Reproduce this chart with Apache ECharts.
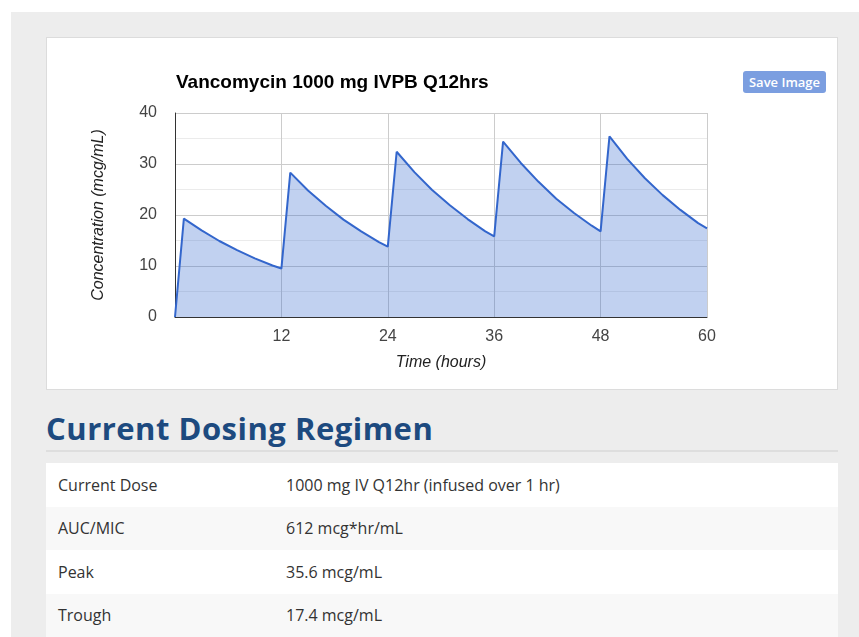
<!DOCTYPE html>
<html>
  <head>
    <meta charset="UTF-8" />
    <title>Vancomycin dosing</title>
    <script src="https://cdn.jsdelivr.net/npm/echarts@6/dist/echarts.min.js"></script>
    <style>
      body {
        margin: 0;
        padding: 0;
        background: #fff;
        font-family: "Open Sans", sans-serif;
      }
      .panel {
        position: absolute;
        left: 11px;
        top: 12px;
        right: 0;
        bottom: 0;
        background: #ededed;
      }
      .card {
        position: absolute;
        left: 46px;
        top: 37px;
        width: 790px;
        height: 351px;
        background: #fff;
        border: 1px solid #dcdcdc;
      }
      #main {
        width: 790px;
        height: 351px;
      }
      .save {
        position: absolute;
        left: 696px;
        top: 33px;
        width: 83px;
        height: 22px;
        line-height: 22px;
        background: #7b9ee0;
        color: #fff;
        border-radius: 3px;
        font-size: 13px;
        font-weight: 600;
        text-align: center;
      }
      h2 {
        position: absolute;
        left: 46px;
        top: 407px;
        margin: 0;
        font-size: 31px;
        letter-spacing: 0.5px;
        font-weight: 700;
        color: #1d4a7f;
        white-space: nowrap;
      }
      .rule {
        position: absolute;
        left: 46px;
        top: 450px;
        width: 792px;
        height: 2px;
        background: #dedede;
      }
      table {
        position: absolute;
        left: 46px;
        top: 463px;
        width: 792px;
        border-collapse: collapse;
        background: #fff;
        font-size: 16px;
        color: #333;
      }
      td {
        height: 43.5px;
        padding: 0 12px;
      }
      td.val {
        padding-left: 0;
      }
      tr:nth-child(even) td {
        background: #f8f8f8;
      }
    </style>
  </head>
  <body>
    <div class="panel"></div>
    <div class="card">
      <div id="main"></div>
      <div class="save">Save Image</div>
    </div>
    <h2>Current Dosing Regimen</h2>
    <div class="rule"></div>
    <table id="regimen"></table>
    <script type="text/javascript">
      // hours since first dose
      var times = [
        0, 1, 3, 5, 7, 9, 11, 12,
        13, 15, 17, 19, 21, 23, 24,
        25, 27, 29, 31, 33, 35, 36,
        37, 39, 41, 43, 45, 47, 48,
        49, 51, 53, 55, 57, 59, 60
      ];
      // mcg/mL
      var concentrations = [
        0, 19.3, 17.0, 14.9, 13.1, 11.5, 10.1, 9.5,
        28.3, 24.8, 21.8, 19.1, 16.8, 14.7, 13.8,
        32.4, 28.4, 24.9, 21.9, 19.2, 16.8, 15.8,
        34.4, 30.2, 26.5, 23.2, 20.4, 17.9, 16.8,
        35.4, 31.0, 27.2, 23.9, 21.0, 18.4, 17.4
      ];
      var rowLabels = ["Current Dose", "AUC/MIC", "Peak", "Trough"];
      var rowValues = [
        "1000 mg IV Q12hr (infused over 1 hr)",
        "612 mcg*hr/mL",
        "35.6 mcg/mL",
        "17.4 mcg/mL"
      ];

      var html = "";
      for (var i = 0; i < rowLabels.length; i++) {
        html +=
          "<tr><td style='width:216px'>" +
          rowLabels[i] +
          "</td><td class='val'>" +
          rowValues[i] +
          "</td></tr>";
      }
      document.getElementById("regimen").innerHTML = html;

      var points = times.map(function(t, i) {
        return [t, concentrations[i]];
      });

      var chart = echarts.init(document.getElementById("main"));
      var labelFont = "Liberation Sans";
      chart.setOption({
        animation: false,
        title: {
          text: "Vancomycin 1000 mg IVPB Q12hrs",
          left: 124,
          top: 30,
          textStyle: {
            fontFamily: labelFont,
            fontSize: 19,
            fontWeight: "bold",
            color: "#000"
          }
        },
        grid: {
          left: 128,
          right: 130,
          top: 75,
          bottom: 72
        },
        xAxis: {
          type: "value",
          min: 0,
          max: 60,
          interval: 12,
          name: "Time (hours)",
          nameLocation: "middle",
          nameGap: 38,
          nameTextStyle: {
            fontFamily: labelFont,
            fontSize: 16,
            fontStyle: "italic",
            color: "#222"
          },
          axisLine: { lineStyle: { color: "#333", width: 1 } },
          axisTick: { show: false },
          axisLabel: {
            margin: 12,
            fontFamily: labelFont,
            fontSize: 16,
            color: "#444",
            formatter: function(v) {
              return v === 0 ? "" : v;
            }
          },
          splitLine: { show: true, lineStyle: { color: "#cccccc" } }
        },
        yAxis: {
          type: "value",
          min: 0,
          max: 40,
          interval: 10,
          name: "Concentration (mcg/mL)",
          nameLocation: "middle",
          nameGap: 68,
          nameTextStyle: {
            fontFamily: labelFont,
            fontSize: 16,
            fontStyle: "italic",
            color: "#222"
          },
          axisLine: { show: true, lineStyle: { color: "#333", width: 1 } },
          axisTick: { show: false },
          axisLabel: {
            margin: 18,
            fontFamily: labelFont,
            fontSize: 16,
            color: "#444"
          },
          splitLine: { lineStyle: { color: "#cccccc" } },
          minorTick: { show: false, splitNumber: 2 },
          minorSplitLine: { show: true, lineStyle: { color: "#ebebeb" } }
        },
        series: [
          {
            type: "line",
            data: points,
            showSymbol: false,
            lineStyle: { color: "#3366cc", width: 2 },
            itemStyle: { color: "#3366cc" },
            areaStyle: { color: "#3366cc", opacity: 0.3 }
          }
        ]
      });
    </script>
  </body>
</html>
